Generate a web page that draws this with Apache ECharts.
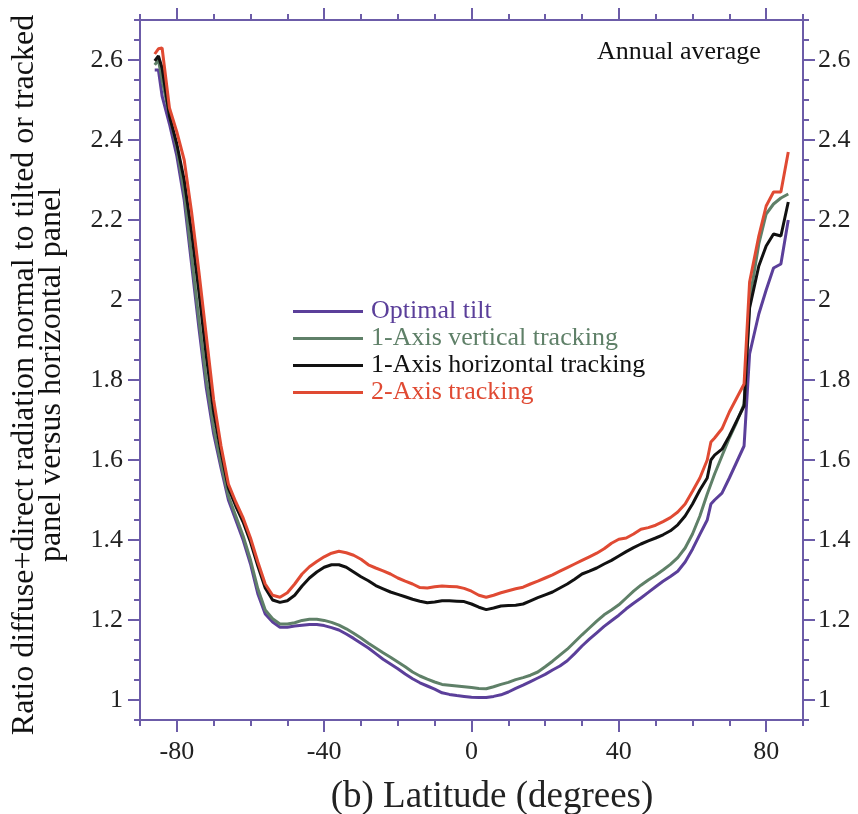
<!DOCTYPE html>
<html>
<head>
<meta charset="utf-8">
<script src="https://cdn.jsdelivr.net/npm/echarts@6/dist/echarts.min.js"></script>
<style>html,body{margin:0;padding:0;background:#fff;}#chart{width:858px;height:814px;}</style>
</head>
<body>
<div id="chart"></div>
<script>
// Latitude (degrees)
const latitudes = [-86,-85,-84,-82,-80,-78,-76,-74,-72,-70,-68,-66,-64,-62,-60,-58,-56,-54,-52,-50,-48,-46,-44,-42,-40,-38,-36,-34,-32,-30,-28,-26,-24,-22,-20,-18,-16,-14,-12,-10,-8,-6,-4,-2,0,2,4,6,8,10,12,14,16,18,20,22,24,26,28,30,32,34,36,38,40,42,44,46,48,50,52,54,56,58,60,62,64,65,66,68,70,72,74,75.5,78,80,82,84,86];

const optimalTilt = [2.575,2.575,2.51,2.44,2.36,2.25,2.09,1.93,1.78,1.665,1.58,1.50,1.45,1.40,1.34,1.265,1.215,1.195,1.182,1.182,1.185,1.187,1.189,1.189,1.186,1.181,1.175,1.165,1.154,1.142,1.13,1.116,1.102,1.09,1.078,1.065,1.053,1.043,1.035,1.027,1.018,1.014,1.011,1.009,1.007,1.006,1.006,1.009,1.013,1.02,1.029,1.037,1.046,1.055,1.064,1.075,1.085,1.098,1.116,1.135,1.152,1.168,1.184,1.198,1.212,1.228,1.242,1.255,1.269,1.283,1.297,1.309,1.322,1.345,1.377,1.414,1.45,1.49,1.50,1.517,1.555,1.595,1.635,1.865,1.965,2.025,2.08,2.09,2.2];

const oneAxisVertical = [2.588,2.60,2.55,2.46,2.38,2.27,2.11,1.95,1.80,1.68,1.59,1.51,1.46,1.41,1.35,1.278,1.225,1.203,1.19,1.19,1.193,1.199,1.202,1.202,1.199,1.194,1.187,1.178,1.167,1.155,1.142,1.13,1.118,1.107,1.095,1.083,1.07,1.06,1.052,1.045,1.039,1.037,1.035,1.033,1.031,1.029,1.028,1.033,1.039,1.044,1.051,1.056,1.062,1.07,1.083,1.097,1.112,1.127,1.145,1.163,1.18,1.197,1.213,1.225,1.238,1.255,1.272,1.287,1.3,1.312,1.325,1.339,1.356,1.38,1.415,1.46,1.515,1.54,1.565,1.61,1.655,1.695,1.74,2.0,2.14,2.215,2.24,2.255,2.265];

const oneAxisHorizontal = [2.598,2.61,2.58,2.46,2.39,2.30,2.17,2.02,1.86,1.72,1.62,1.53,1.485,1.445,1.395,1.335,1.28,1.25,1.244,1.248,1.262,1.285,1.305,1.32,1.332,1.338,1.338,1.332,1.32,1.308,1.298,1.286,1.278,1.27,1.264,1.258,1.252,1.247,1.243,1.245,1.248,1.248,1.247,1.246,1.24,1.232,1.226,1.23,1.235,1.236,1.237,1.24,1.248,1.256,1.263,1.27,1.28,1.29,1.302,1.315,1.322,1.33,1.34,1.349,1.36,1.371,1.381,1.39,1.398,1.405,1.413,1.423,1.438,1.46,1.49,1.525,1.555,1.6,1.612,1.627,1.66,1.698,1.735,1.98,2.085,2.135,2.165,2.16,2.245];

const twoAxis = [2.615,2.628,2.63,2.48,2.42,2.35,2.22,2.07,1.91,1.75,1.635,1.54,1.495,1.455,1.405,1.345,1.29,1.262,1.257,1.268,1.29,1.315,1.333,1.346,1.358,1.367,1.372,1.368,1.362,1.352,1.338,1.33,1.323,1.315,1.305,1.297,1.29,1.281,1.28,1.283,1.285,1.284,1.283,1.279,1.272,1.262,1.257,1.262,1.268,1.273,1.278,1.282,1.29,1.297,1.305,1.313,1.322,1.331,1.34,1.349,1.358,1.367,1.378,1.392,1.402,1.405,1.415,1.427,1.431,1.437,1.446,1.456,1.47,1.49,1.522,1.555,1.6,1.645,1.655,1.678,1.72,1.755,1.79,2.045,2.16,2.235,2.27,2.27,2.37];

const seriesNames = ['Optimal tilt','1-Axis vertical tracking','1-Axis horizontal tracking','2-Axis tracking'];
const seriesColors = ['#5b3f9a','#5f8068','#111111','#e04a33'];
const xTickLabels = [-80,-40,0,40,80];
const yTickLabels = [1,1.2,1.4,1.6,1.8,2,2.2,2.4,2.6];

const axisColor = '#6c5ca8';
const font = 'Liberation Serif';
const allValues = [optimalTilt, oneAxisVertical, oneAxisHorizontal, twoAxis];

const chart = echarts.init(document.getElementById('chart'), null, {renderer:'canvas'});

function xAx(pos, major, labels){
  const a = {type:'value', min:-90, max:90, position:pos, splitLine:{show:false},
    axisLine:{show:!major, onZero:false, lineStyle:{color:axisColor,width:2}},
    axisTick:{show:true, length: major?12:6, lineStyle:{color:axisColor,width:2}},
    axisLabel:{show:false}};
  if (major){
    a.axisTick.customValues = xTickLabels;
    if (labels){ a.axisLabel = {show:true, customValues:xTickLabels, fontFamily:font, fontSize:26, color:'#222', margin:19}; }
  } else { a.interval = 10; }
  return a;
}
function yAx(pos, major){
  const a = {type:'value', min:0.95, max:2.7, position:pos, splitLine:{show:false},
    axisLine:{show:!major, onZero:false, lineStyle:{color:axisColor,width:2}},
    axisTick:{show:true, length: major?12:6, lineStyle:{color:axisColor,width:2}},
    axisLabel:{show:false}};
  if (major){
    a.axisTick.customValues = yTickLabels;
    a.axisLabel = {show:true, customValues:yTickLabels, fontFamily:font, fontSize:26, color:'#222', margin: pos==='left'?17:15};
  } else { a.interval = 0.05; }
  return a;
}

const option = {
  animation:false,
  backgroundColor:'#fff',
  grid:{left:140, right:55, top:20, bottom:94},
  title:{text:'Annual average', left:597, top:39, padding:0, textStyle:{fontFamily:font, fontSize:26, fontWeight:'normal', color:'#111'}},
  legend:{orient:'vertical', left:293, top:298, itemWidth:70, itemHeight:3, itemGap:0, padding:0, icon:'rect',
    data: seriesNames.map((n,i)=>({name:n, itemStyle:{color:seriesColors[i]}, textStyle:{color:seriesColors[i]}})),
    textStyle:{fontFamily:font, fontSize:26, lineHeight:27, padding:[0,0,0,3]}},
  xAxis:[xAx('bottom',false,false), xAx('bottom',true,true), xAx('top',false,false), xAx('top',true,false)],
  yAxis:[yAx('left',true), yAx('left',false), yAx('right',true), yAx('right',false)],
  graphic:[
    {type:'text', x:38, y:375, rotation:Math.PI/2, style:{text:'Ratio diffuse+direct radiation normal to tilted or tracked\npanel versus horizontal panel', fontFamily:font, fontSize:32, lineHeight:27, align:'center', verticalAlign:'middle', fill:'#111'}},
    {type:'text', x:492, y:797, style:{text:'(b) Latitude (degrees)', fontFamily:font, fontSize:37, align:'center', verticalAlign:'middle', fill:'#222'}}
  ],
  series: seriesNames.map((n,i)=>({
    name:n, type:'line', xAxisIndex:0, yAxisIndex:0, symbol:'none', smooth:false,
    lineStyle:{color:seriesColors[i], width:3}, itemStyle:{color:seriesColors[i]},
    data: latitudes.map((lat,k)=>[lat, allValues[i][k]])
  }))
};
chart.setOption(option);
</script>
</body>
</html>
